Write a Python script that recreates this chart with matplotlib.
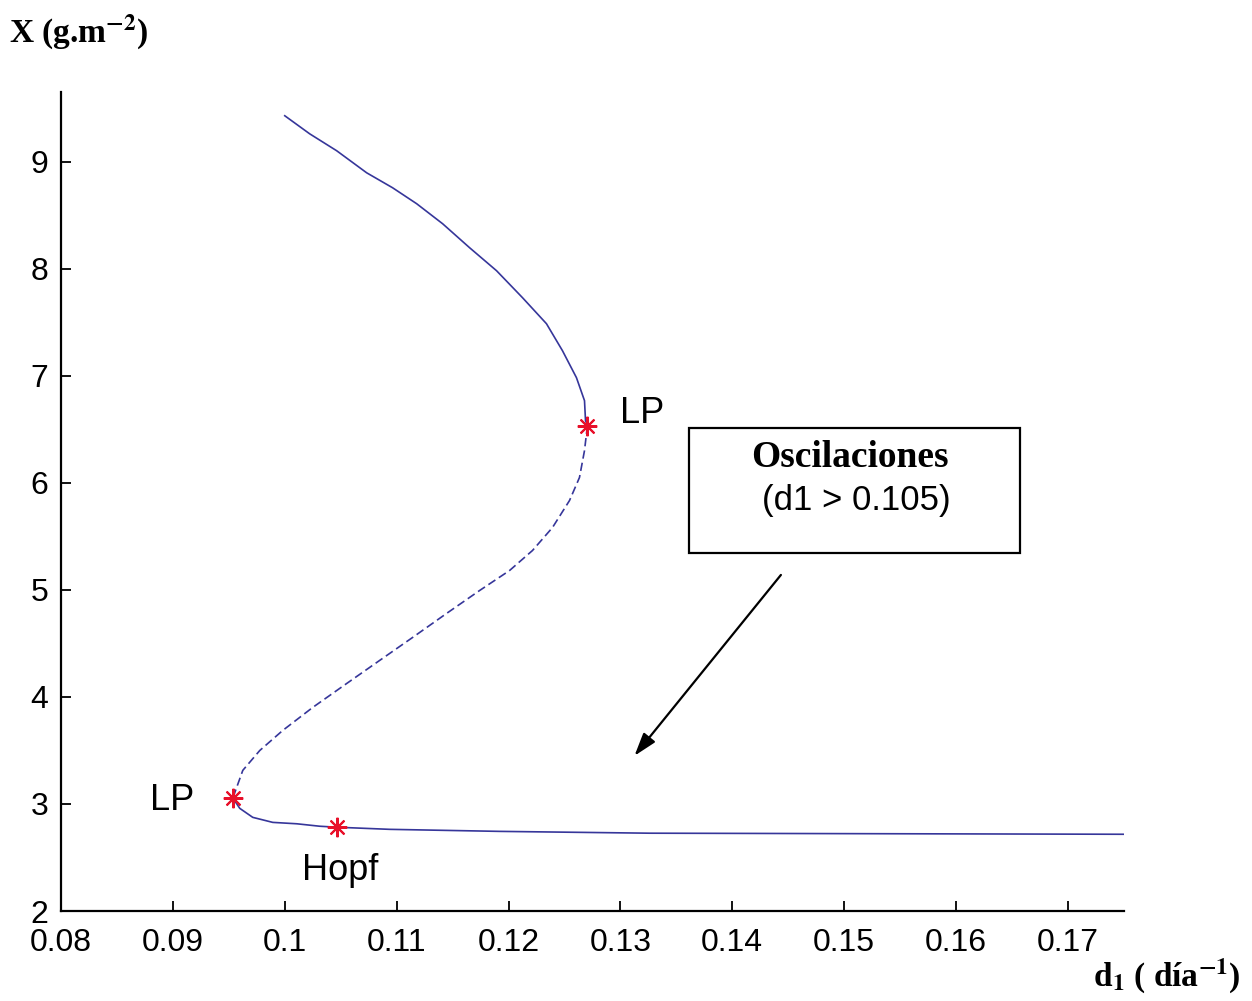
import matplotlib.pyplot as plt
from matplotlib.patches import Rectangle

plt.rcParams['font.family'] = 'Liberation Sans'
plt.rcParams['mathtext.fontset'] = 'stix'

# stable upper branch
d_up = [0.1000, 0.10223, 0.10464, 0.10732, 0.10964, 0.11179, 0.11411, 0.11652,
        0.11893, 0.12125, 0.12339, 0.12482, 0.12607, 0.12679, 0.12688, 0.12705]
x_up = [9.43, 9.261, 9.103, 8.897, 8.757, 8.608, 8.421, 8.197,
        7.982, 7.730, 7.487, 7.235, 6.983, 6.768, 6.582, 6.535]
# unstable middle branch (dashed)
d_mid = [0.12705, 0.12679, 0.12634, 0.12545, 0.12393, 0.12214, 0.12009, 0.11741,
         0.11446, 0.11143, 0.10848, 0.10554, 0.10250, 0.09982, 0.09777, 0.09625, 0.09536]
x_mid = [6.535, 6.302, 6.050, 5.835, 5.583, 5.368, 5.181, 4.994,
         4.780, 4.556, 4.341, 4.126, 3.902, 3.687, 3.500, 3.314, 3.055]
# stable lower branch
d_low = [0.09536, 0.09598, 0.09714, 0.09893, 0.10107, 0.10313, 0.10464,
         0.10938, 0.11920, 0.13259, 0.175]
x_low = [3.055, 2.959, 2.875, 2.828, 2.815, 2.792, 2.783,
         2.763, 2.744, 2.727, 2.717]

# special points
d_pts = [0.12705, 0.09536, 0.10464]
x_pts = [6.535, 3.055, 2.783]
pt_labels = ['LP', 'LP', 'Hopf']

xticks = [0.08, 0.09, 0.1, 0.11, 0.12, 0.13, 0.14, 0.15, 0.16, 0.17]
xticklabels = ['0.08', '0.09', '0.1', '0.11', '0.12', '0.13', '0.14', '0.15', '0.16', '0.17']
yticks = [2, 3, 4, 5, 6, 7, 8, 9]

line_col = '#36369a'

fig = plt.figure(figsize=(12.52, 10.01), dpi=100)
ax = fig.add_axes([0.0487, 0.0899, 0.849, 0.818])

ax.plot(d_up, x_up, color=line_col, lw=1.2, solid_joinstyle='round')
ax.plot(d_mid, x_mid, color=line_col, lw=1.2, ls=(0, (5, 2.5)))
ax.plot(d_low, x_low, color=line_col, lw=1.2, solid_joinstyle='round')
ax.plot(d_pts, x_pts, ls='none', marker=(8, 2, 0), color='#e8102a',
        markersize=14, mew=1.5)

ax.text(0.13196, 6.647, pt_labels[0], fontsize=26, ha='center', va='center')
ax.text(0.08991, 3.034, pt_labels[1], fontsize=26, ha='center', va='center')
ax.text(0.10491, 2.38, pt_labels[2], fontsize=26, ha='center', va='center')

ax.add_patch(Rectangle((0.1361, 5.349), 0.0296, 1.168, fill=False,
                       edgecolor='black', lw=1.6, zorder=3))
ax.text(0.15054, 6.236, 'Oscilaciones', family='Liberation Serif',
        fontweight='bold', fontsize=27, ha='center', va='center')
ax.text(0.15107, 5.835, '(d1 > 0.105)', fontsize=25, ha='center', va='center')
ax.annotate('', xy=(0.1311, 3.43), xytext=(0.1445, 5.16),
            arrowprops=dict(arrowstyle='-|>,head_length=1.4,head_width=0.45',
                            color='black', lw=1.6))

ax.set_xlim(0.08, 0.175)
ax.set_ylim(2, 9.65)
ax.set_xticks(xticks)
ax.set_xticklabels(xticklabels)
ax.set_yticks(yticks)
ax.tick_params(direction='in', length=7, width=1.3, labelsize=23)
ax.tick_params(axis='x', pad=12)
ax.tick_params(axis='y', pad=9)
for s in ['top', 'right']:
    ax.spines[s].set_visible(False)
for s in ['left', 'bottom']:
    ax.spines[s].set_linewidth(1.6)

fig.text(0.007, 0.968, r'X (g.m$^{\mathbf{-2}}$)', family='Liberation Serif',
         fontweight='bold', fontsize=24, ha='left', va='center')
fig.text(0.991, 0.025, r'd$_{\mathbf{1}}$ ( día$^{\mathbf{-1}}$)', family='Liberation Serif',
         fontweight='bold', fontsize=24, ha='right', va='center')

fig.savefig('out.png', dpi=100)
